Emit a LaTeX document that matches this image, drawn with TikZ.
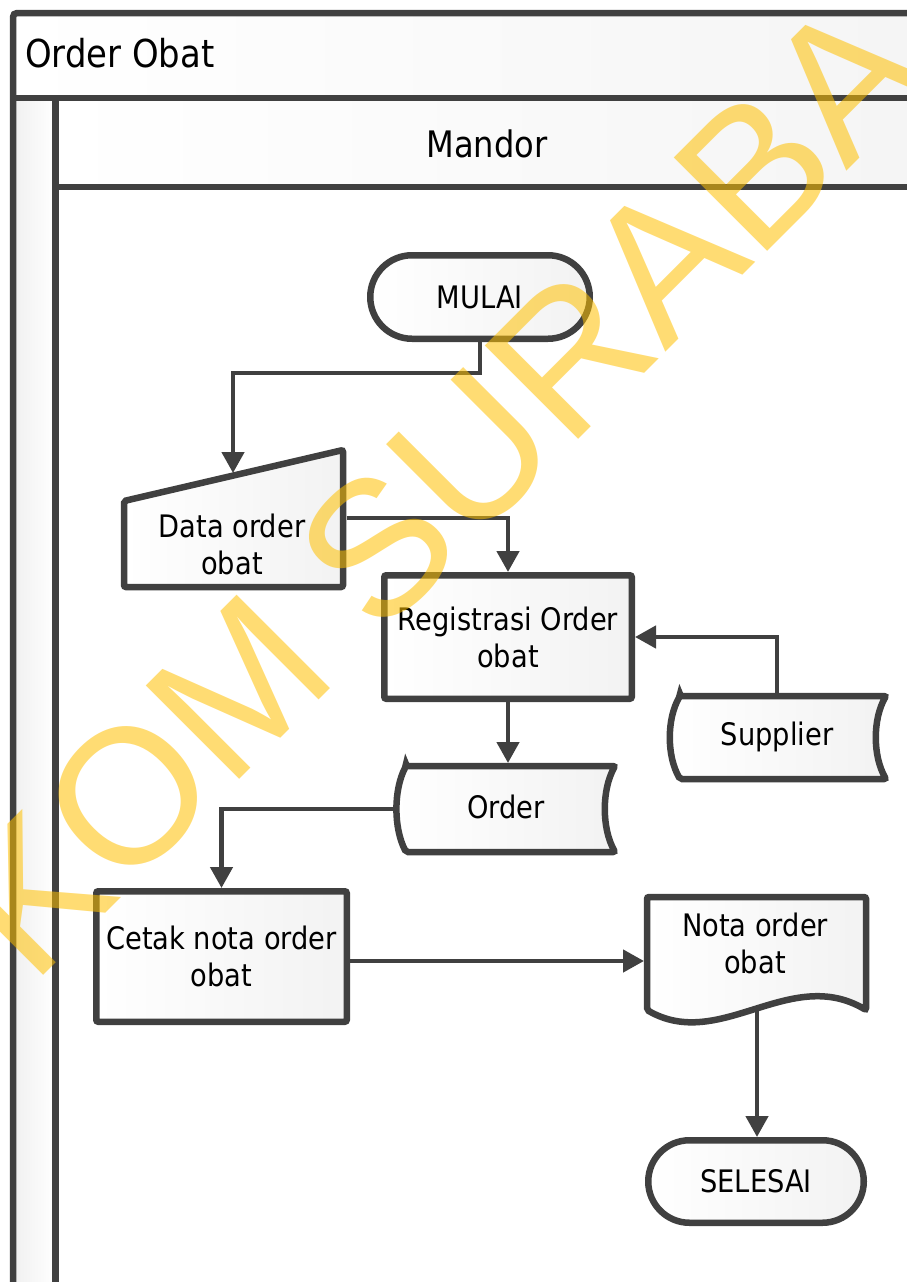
\documentclass[tikz,border=0pt]{standalone}
\usepackage{fontspec}
\setmainfont{DejaVu Sans}[FakeStretch=0.88]
\newfontfamily\wmfont{Liberation Sans}
\usetikzlibrary{arrows.meta,shapes.misc,calc}
\definecolor{dline}{HTML}{404040}
\definecolor{wmyellow}{HTML}{FFC000}
\begin{document}
\begin{tikzpicture}[x=1pt,y=-1pt,
  shp/.style={draw=dline,line width=6.5pt,shading=axis,shading angle=45,left color=white,right color=black!5,rounded corners=2pt},
  term/.style={draw=dline,line width=6.5pt,shading=axis,shading angle=45,left color=white,right color=black!5,rounded rectangle,inner sep=0pt},
  procbox/.style={shp,rectangle,inner sep=0pt,align=center},
  txt/.style={inner sep=0pt,align=center},
  conn/.style={draw=dline,line width=4.5pt,-{Triangle[length=21pt,width=22pt]}},
  frameline/.style={draw=dline,line width=6.5pt},
  every node/.style={font=\fontsize{31}{37}\selectfont}
]
\useasboundingbox (0,0) rectangle (907,1282);
\clip (0,0) rectangle (907,1282);
\fill[white] (0,0) rectangle (907,1282);
% bands
\fill[left color=white,right color=black!4] (13,13) rectangle (920,98);
\fill[left color=black!6,right color=white] (13,98) rectangle (55.5,1300);
\fill[left color=white,right color=black!4] (55.5,98) rectangle (920,187);
\draw[frameline,rounded corners=4pt] (13,1300) -- (13,13) -- (920,13);
\draw[frameline] (13,98) -- (920,98);
\draw[frameline] (55.5,1300) -- (55.5,98);
\draw[frameline] (55.5,187) -- (920,187);
\node[txt,anchor=base west,font=\fontsize{38.5}{44}\selectfont] (title) at (25,67) {Order Obat};
\node[txt,anchor=base,font=\fontsize{36.5}{42}\selectfont] (lane) at (487,157) {Mandor};

% terminators
\node[term,minimum width=219.5pt,minimum height=83.5pt] (mulai) at (480,297) {MULAI};
\node[term,minimum width=215.5pt,minimum height=82.5pt] (selesai) at (756,1181.5) {SELESAI};

% manual input
\draw[shp] (124,501) -- (343,450) -- (343,587) -- (124,587) -- cycle;
\node[txt] (data) at (232,544) {Data order\\obat};

% processes
\node[procbox,minimum width=247.5pt,minimum height=123.5pt] (reg) at (508,637) {Registrasi Order\\obat};
\node[procbox,minimum width=250.5pt,minimum height=130.5pt] (cetak) at (221.5,956.5) {Cetak nota order\\obat};

% stored data: Order
\draw[shp] (406,766) -- (615,766) .. controls (601.7,790) and (601.7,828) .. (615,852)
  -- (406,852) .. controls (393.5,828) and (393.5,790) .. (406,766) -- cycle;
\node[txt] (order) at (506,807) {Order};
% stored data: Supplier
\draw[shp] (680,696) -- (886,696) .. controls (872.7,719) and (872.7,756) .. (886,779)
  -- (680,779) .. controls (666.7,756) and (666.7,719) .. (680,696) -- cycle;
\node[txt] (supplier) at (777,737) {Supplier};

% document: Nota
\draw[shp] (647,897) -- (866,897) -- (866,1010)
  .. controls (790,965) and (720,1052) .. (647,1010) -- cycle;
\node[txt] (nota) at (755,943) {Nota order\\obat};

% connector end points on the drawn outlines
\coordinate (j1) at (233,373);
\coordinate (dataTop) at (233,473);
\coordinate (dataR) at (346.5,518);
\coordinate (supT) at (777,692.5);
\coordinate (ordL) at (396,809);
\coordinate (ordT) at (508,763);
\coordinate (notaL) at (644,961);
\coordinate (notaB) at (757,1008);

\draw[conn] (mulai.south) |- (j1) -- (dataTop);
\draw[conn] (dataR) -| (reg.north);
\draw[conn] (supT) |- (reg.east);
\draw[conn] (reg.south) -- (ordT);
\draw[conn] (ordL) -| (cetak.north);
\draw[conn] (cetak.east |- notaL) -- (notaL);
\draw[conn] (notaB) -- (notaB |- selesai.north);

% watermark
\node[inner sep=0pt,rotate=45,text=wmyellow,text opacity=0.55,
  font=\wmfont\fontsize{192}{192}\selectfont] (wm) at (438,487) {KOM SURABA};
\end{tikzpicture}
\end{document}
